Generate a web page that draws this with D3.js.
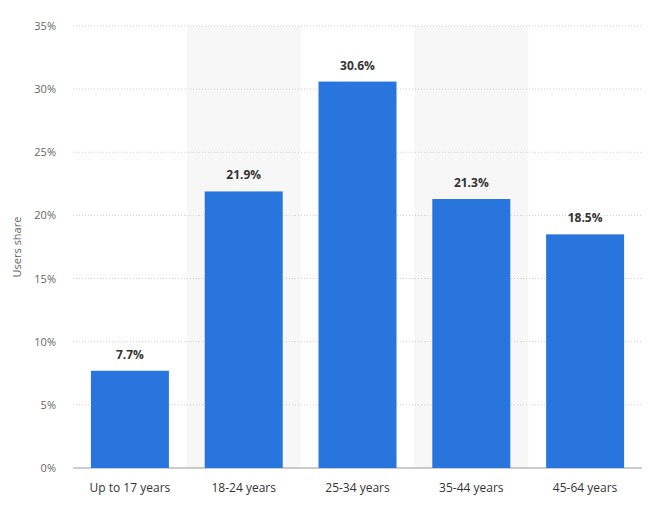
<!DOCTYPE html>
<html><head><meta charset="utf-8">
<script src="https://cdn.jsdelivr.net/npm/d3@7"></script>
<style>body{margin:0;background:#fff}svg{font-family:"Open Sans",Roboto,sans-serif}</style>
</head><body><svg id="c" width="660" height="514"></svg>
<script>
const categories=["Up to 17 years","18-24 years","25-34 years","35-44 years","45-64 years"];
const values=[7.7,21.9,30.6,21.3,18.5];
const yTicks=[0,5,10,15,20,25,30,35];
const svg=d3.select("#c");
const x=d3.scaleBand().domain(categories).range([73,642]).paddingInner(0).paddingOuter(0);
const y=d3.scaleLinear().domain([0,35]).range([468,26]);
categories.forEach((c,i)=>{if(i%2==1)svg.append("rect").attr("x",x(c)).attr("y",y(35)).attr("width",x.bandwidth()).attr("height",y(0)-y(35)).attr("fill","#f7f7f7");});
const g=svg.append("g");
yTicks.forEach(t=>{
 g.append("line").attr("x1",73).attr("x2",642).attr("y1",y(t)).attr("y2",y(t)).attr("stroke",t===0?"#999":"#ccc").attr("stroke-dasharray",t===0?null:"1,2");
 g.append("text").attr("x",56).attr("y",y(t)+4).attr("text-anchor","end").attr("font-size",11).attr("fill","#666").text(t+"%");
});
const bw=78;
svg.selectAll(".b").data(values).join("rect").attr("x",(d,i)=>x(categories[i])+x.bandwidth()/2-bw/2).attr("width",bw).attr("y",d=>y(d)).attr("height",d=>y(0)-y(d)).attr("fill","#2876dd");
svg.selectAll(".l").data(values).join("text").attr("x",(d,i)=>x(categories[i])+x.bandwidth()/2).attr("y",d=>y(d)-12).attr("text-anchor","middle").attr("font-size",12).attr("font-weight","bold").attr("fill","#333").text(d=>d.toFixed(1)+"%");
categories.forEach(c=>svg.append("text").attr("x",x(c)+x.bandwidth()/2).attr("y",492).attr("text-anchor","middle").attr("font-size",12).attr("fill","#333").text(c));
svg.append("text").attr("transform","translate(21,247) rotate(-90)").attr("text-anchor","middle").attr("font-size",11).attr("fill","#666").text("Users share");
</script></body></html>
